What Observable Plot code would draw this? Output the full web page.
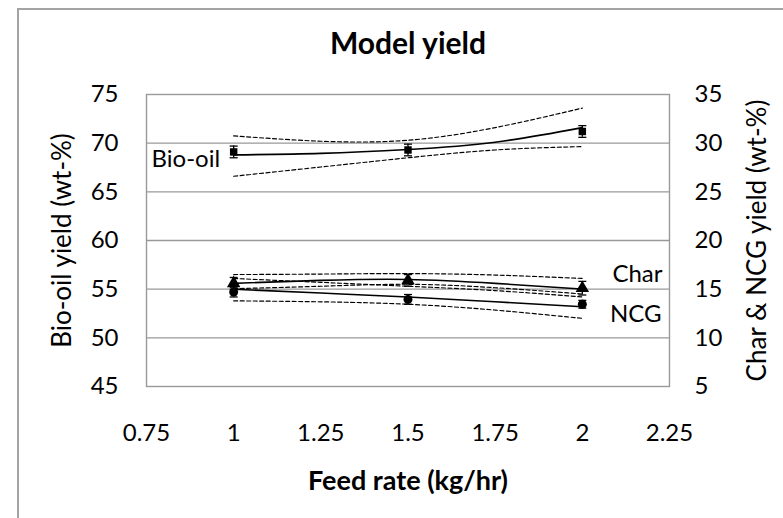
<!DOCTYPE html>
<html>
<head>
<meta charset="utf-8">
<script src="https://cdn.jsdelivr.net/npm/d3@7"></script>
<script src="https://cdn.jsdelivr.net/npm/@observablehq/plot@0.6"></script>
<style>
  html, body { margin: 0; padding: 0; background: #fff; }
  #wrap { position: relative; width: 783px; height: 518px; overflow: hidden; }
  #border { position: absolute; left: 17px; top: 8px; width: 1000px; height: 1000px; border: 2px solid #a3a3a3; box-sizing: border-box; }
  #chart { position: absolute; left: 0; top: 0; }
</style>
</head>
<body>
<div id="wrap"><div id="border"></div><div id="chart"></div></div>
<script>
// Measured points (feed rate, kg/hr)
const feedRate = [1, 1.5, 2];
const bioOilMeasured = [69.1, 69.3, 71.2];
const bioOilErr = [0.6, 0.6, 0.6];
const charMeasured = [15.6, 15.9, 15.1];
const charErr = [0.6, 0.6, 0.7];
const ncgMeasured = [14.7, 13.95, 13.45];
const ncgErr = [0.5, 0.5, 0.4];

// Model curves and confidence bounds
const modelFeed = [1, 1.25, 1.5, 1.75, 2];
const bioOilModel = [68.8, 68.95, 69.35, 70.1, 71.6];
const bioOilUpper = [70.75, 70.2, 70.3, 71.6, 73.6];
const bioOilLower = [66.6, 67.55, 68.5, 69.3, 69.65];
const charModel = [15.6, 15.9, 16.0, 15.6, 15.0];
const charUpper = [16.5, 16.55, 16.6, 16.45, 16.1];
const charLower = [15.05, 15.3, 15.5, 15.15, 14.5];
const ncgModel = [15.0, 14.6, 14.2, 13.7, 13.2];
const ncgUpper = [16.1, 15.7, 15.3, 14.85, 14.2];
const ncgLower = [13.8, 13.7, 13.45, 12.85, 12.0];

// Axis ticks
const xTicks = [0.75, 1, 1.25, 1.5, 1.75, 2, 2.25];
const leftTicks = [45, 50, 55, 60, 65, 70, 75];
const rightTicks = [5, 10, 15, 20, 25, 30, 35];
const rightOffset = 40; // right axis value + 40 = left axis value

const title = "Model yield";
const xTitle = "Feed rate (kg/hr)";
const yLeftTitle = "Bio-oil yield (wt-%)";
const yRightTitle = "Char & NCG yield (wt-%)";

const measured = feedRate.map((x, i) => ({
  x, bio: bioOilMeasured[i], bioE: bioOilErr[i],
  char: charMeasured[i] + rightOffset, charE: charErr[i],
  ncg: ncgMeasured[i] + rightOffset, ncgE: ncgErr[i]
}));
const model = modelFeed.map((x, i) => ({
  x,
  bio: bioOilModel[i], bioU: bioOilUpper[i], bioL: bioOilLower[i],
  char: charModel[i] + rightOffset, charU: charUpper[i] + rightOffset, charL: charLower[i] + rightOffset,
  ncg: ncgModel[i] + rightOffset, ncgU: ncgUpper[i] + rightOffset, ncgL: ncgLower[i] + rightOffset
}));

const capSymbol = { draw(ctx, size) { const w = Math.sqrt(size / Math.PI); ctx.moveTo(-w, 0); ctx.lineTo(w, 0); } };

const FONT = "Lato, 'Open Sans', sans-serif";
const gridColor = "#999";

function errorBars(key, eKey) {
  return [
    Plot.ruleX(measured, {x: "x", y1: d => d[key] - d[eKey], y2: d => d[key] + d[eKey], stroke: "black", strokeWidth: 1.3}),
    Plot.dot(measured, {x: "x", y: d => d[key] + d[eKey], symbol: capSymbol, r: 4, stroke: "black", strokeWidth: 1.3}),
    Plot.dot(measured, {x: "x", y: d => d[key] - d[eKey], symbol: capSymbol, r: 4, stroke: "black", strokeWidth: 1.3})
  ];
}
const solid = {stroke: "black", strokeWidth: 1.6, curve: "natural"};
const dashed = {stroke: "black", strokeWidth: 1.15, strokeDasharray: "4,2.5", curve: "natural"};

const chart = Plot.plot({
  width: 783,
  height: 518,
  marginLeft: 146,
  marginRight: 114,
  marginTop: 94,
  marginBottom: 132,
  style: {fontFamily: FONT, fontSize: "24px", color: "black", background: "transparent", overflow: "visible"},
  x: {domain: [0.75, 2.25]},
  y: {domain: [45, 75]},
  marks: [
    Plot.gridY(leftTicks.slice(1, -1), {stroke: gridColor, strokeOpacity: 1, strokeWidth: 1.4}),
    Plot.frame({stroke: gridColor, strokeWidth: 1.4}),
    Plot.axisX(xTicks, {tickSize: 0, tickPadding: 37, tickFormat: d => String(d), label: null, fontSize: 24}),
    Plot.axisY(leftTicks, {anchor: "left", tickSize: 0, tickPadding: 28, label: null, fontSize: 24}),
    Plot.axisY(leftTicks, {anchor: "right", tickSize: 0, tickPadding: 25, tickFormat: d => String(d - rightOffset), label: null, fontSize: 24}),

    // confidence bounds
    Plot.line(model, {x: "x", y: "bioU", ...dashed}),
    Plot.line(model, {x: "x", y: "bioL", ...dashed}),
    Plot.line(model, {x: "x", y: "charU", ...dashed}),
    Plot.line(model, {x: "x", y: "charL", ...dashed}),
    Plot.line(model, {x: "x", y: "ncgU", ...dashed}),
    Plot.line(model, {x: "x", y: "ncgL", ...dashed}),
    // model lines
    Plot.line(model, {x: "x", y: "bio", ...solid}),
    Plot.line(model, {x: "x", y: "char", ...solid}),
    Plot.line(model, {x: "x", y: "ncg", ...solid}),

    // error bars and markers
    ...errorBars("bio", "bioE"),
    ...errorBars("char", "charE"),
    ...errorBars("ncg", "ncgE"),
    Plot.dot(measured, {x: "x", y: "bio", symbol: "square", r: 4.2, fill: "black"}),
    Plot.dot(measured, {x: "x", y: "ncg", symbol: "circle", r: 4.5, fill: "black"}),
    Plot.dot(measured, {x: "x", y: "char", symbol: "triangle", r: 5, fill: "black"}),

    // series labels
    Plot.text([bioOilModel[0]], {y: d => d, frameAnchor: "left", dx: 5, dy: 4, text: () => "Bio-oil", textAnchor: "start", lineAnchor: "middle", fontSize: 24, fill: "black"}),
    Plot.text([charModel[charModel.length - 1] + rightOffset], {y: d => d, frameAnchor: "right", dx: -7, dy: -15, text: () => "Char", textAnchor: "end", lineAnchor: "middle", fontSize: 24, fill: "black"}),
    Plot.text([ncgModel[ncgModel.length - 1] + rightOffset], {y: d => d, frameAnchor: "right", dx: -8, dy: 8, text: () => "NCG", textAnchor: "end", lineAnchor: "middle", fontSize: 24, fill: "black"}),

    // titles
    Plot.text([title], {frameAnchor: "top", dy: -50, text: d => d, textAnchor: "middle", lineAnchor: "middle", fontSize: 30, fontWeight: "bold", fill: "black"}),
    Plot.text([xTitle], {frameAnchor: "bottom", dy: 95, text: d => d, textAnchor: "middle", lineAnchor: "middle", fontSize: 27, fontWeight: "bold", fill: "black"}),
    Plot.text([yLeftTitle], {frameAnchor: "left", dx: -84, rotate: -90, text: d => d, textAnchor: "middle", lineAnchor: "middle", fontSize: 26, fill: "black"}),
    Plot.text([yRightTitle], {frameAnchor: "right", dx: 88, rotate: -90, text: d => d, textAnchor: "middle", lineAnchor: "middle", fontSize: 26, fill: "black"})
  ]
});
document.getElementById("chart").appendChild(chart);
</script>
</body>
</html>
